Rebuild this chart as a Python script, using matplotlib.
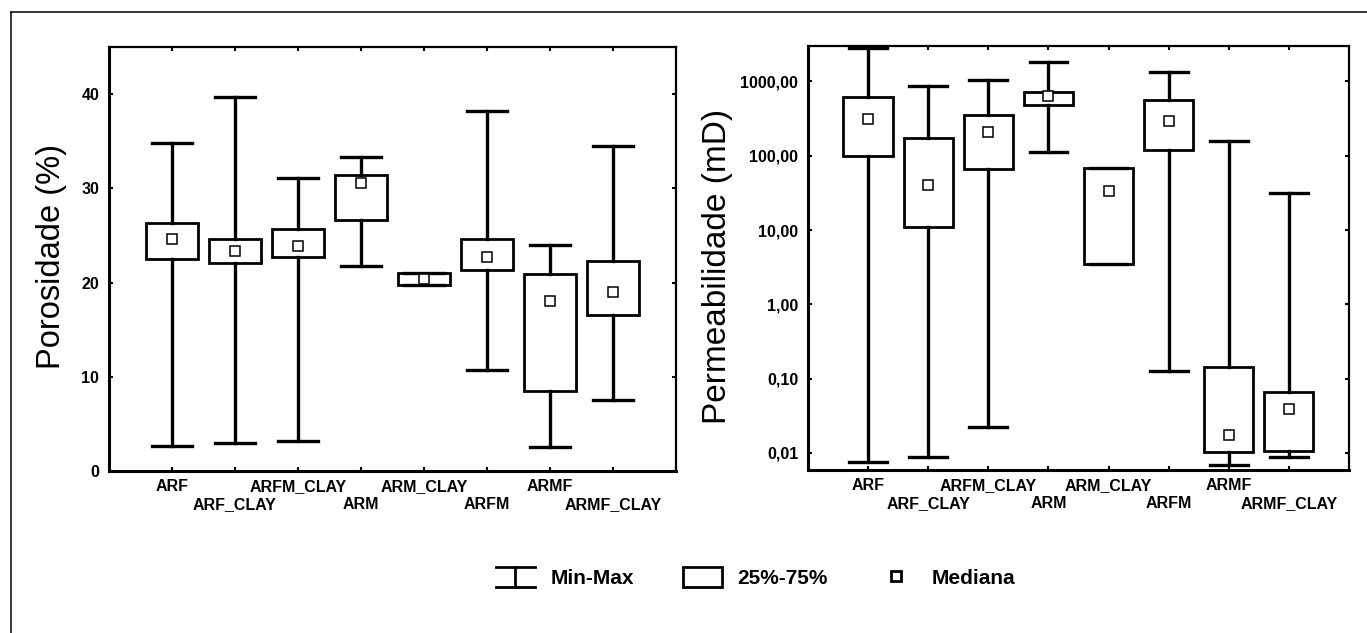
import numpy as np
import matplotlib
matplotlib.use('Agg')
import matplotlib.pyplot as plt
from matplotlib.lines import Line2D
from matplotlib.patches import Rectangle
from matplotlib.legend_handler import HandlerBase
from matplotlib.ticker import FixedLocator, NullLocator
from matplotlib.transforms import ScaledTranslation

categories = ['ARF', 'ARF_CLAY', 'ARFM_CLAY', 'ARM', 'ARM_CLAY', 'ARFM', 'ARMF', 'ARMF_CLAY']

# Porosidade (%)
por_min = [2.7, 3.0, 3.2, 21.8, np.nan, 10.7, 2.5, 7.5]
por_q1 = [22.5, 22.1, 22.7, 26.6, 19.7, 21.3, 8.5, 16.6]
por_med = [24.6, 23.4, 23.9, 30.6, 20.4, 22.7, 18.0, 19.0]
por_q3 = [26.3, 24.6, 25.7, 31.4, 21.0, 24.6, 20.9, 22.3]
por_max = [34.8, 39.7, 31.1, 33.3, np.nan, 38.2, 24.0, 34.5]

# Permeabilidade (mD)
perm_min = [0.0075, 0.0088, 0.0227, 112, np.nan, 0.128, 0.0068, 0.0087]
perm_q1 = [99, 10.9, 66, 476, 3.54, 120, 0.0102, 0.0105]
perm_med = [313, 41, 206, 645, 34, 294, 0.0175, 0.039]
perm_q3 = [617, 175, 351, 711, 68, 566, 0.145, 0.067]
perm_max = [2850, 881, 1038, 1810, np.nan, 1337, 160, 31.8]

por_ticks = [0, 10, 20, 30, 40]
perm_ticks = [0.01, 0.1, 1, 10, 100, 1000]
perm_ticklabels = ['0,01', '0,10', '1,00', '10,00', '100,00', '1000,00']

plt.rcParams['font.family'] = ['Liberation Sans', 'DejaVu Sans']


def make_stats(mn, q1, med, q3, mx):
    stats = []
    for a, b, c, d, e in zip(mn, q1, med, q3, mx):
        stats.append(dict(whislo=b if np.isnan(a) else a, q1=b, med=c, mean=c,
                          q3=d, whishi=d if np.isnan(e) else e, fliers=[]))
    return stats


def draw_panel(ax, stats):
    pos = np.arange(1, len(categories) + 1)
    ax.bxp(stats, positions=pos, widths=0.82, capwidths=0.63,
           patch_artist=True, showmeans=True, showfliers=False,
           boxprops=dict(facecolor='white', edgecolor='black', linewidth=2.0),
           whiskerprops=dict(color='black', linewidth=2.4),
           capprops=dict(color='black', linewidth=2.4),
           medianprops=dict(linewidth=0),
           meanprops=dict(marker='s', markersize=6.5, markerfacecolor='white',
                          markeredgecolor='black', markeredgewidth=1.1))
    ax.set_xlim(0, 9)
    ax.set_xticks(pos)
    ax.set_xticklabels(categories, fontsize=12, fontweight='bold')
    ax.tick_params(axis='both', direction='in', length=3, width=1.5,
                   top=True, right=True, labelsize=11.5, pad=7)
    ax.tick_params(axis='x', pad=6)
    for s in ['left', 'bottom']:
        ax.spines[s].set_linewidth(2.2)
    for s in ['top', 'right']:
        ax.spines[s].set_linewidth(1.6)


def stagger_labels(ax):
    # every second category label sits on a lower row
    shift = ScaledTranslation(0, -18 / 100, fig.dpi_scale_trans)
    for i, lab in enumerate(ax.get_xticklabels()):
        if i % 2 == 1:
            lab.set_transform(lab.get_transform() + shift)


fig = plt.figure(figsize=(13.67, 6.33), dpi=100)
ax1 = fig.add_axes([0.0797, 0.2559, 0.4148, 0.6698])
ax2 = fig.add_axes([0.5911, 0.2575, 0.3957, 0.6698])

draw_panel(ax1, make_stats(por_min, por_q1, por_med, por_q3, por_max))
ax1.set_ylim(0, 45)
ax1.yaxis.set_major_locator(FixedLocator(por_ticks))
ax1.set_yticklabels([str(t) for t in por_ticks], fontsize=11.5, fontweight='bold')
ax1.set_ylabel('Porosidade (%)', fontsize=23.5, va='center')
ax1.yaxis.set_label_coords(-0.1005, 0.505)

draw_panel(ax2, make_stats(perm_min, perm_q1, perm_med, perm_q3, perm_max))
ax2.set_yscale('log')
ax2.set_ylim(0.0059, 3000)
ax2.yaxis.set_major_locator(FixedLocator(perm_ticks))
ax2.yaxis.set_minor_locator(NullLocator())
ax2.set_yticklabels(perm_ticklabels, fontsize=11.5, fontweight='bold')
ax2.set_ylabel('Permeabilidade (mD)', fontsize=24, va='center')
ax2.yaxis.set_label_coords(-0.168, 0.479)

stagger_labels(ax1)
stagger_labels(ax2)


class HandlerMinMax(HandlerBase):
    def create_artists(self, legend, orig_handle, xdescent, ydescent,
                       width, height, fontsize, trans):
        x0, x1 = -xdescent, -xdescent + width
        y0, y1 = -ydescent, -ydescent + height
        xm = (x0 + x1) / 2
        arts = [Line2D([x0, x1], [y1, y1]), Line2D([x0, x1], [y0, y0]),
                Line2D([xm, xm], [y0, y1])]
        for a in arts:
            a.set_color('black')
            a.set_linewidth(2.0)
            a.set_transform(trans)
        return arts


h_minmax = Line2D([], [], color='black')
h_box = Rectangle((0, 0), 1, 1, facecolor='white', edgecolor='black', linewidth=2.0)
h_med = Line2D([], [], marker='s', linestyle='none', markersize=7,
               markerfacecolor='white', markeredgecolor='black', markeredgewidth=2.0)
fig.legend([h_minmax, h_box, h_med], ['Min-Max', '25%-75%', 'Mediana'],
           handler_map={h_minmax: HandlerMinMax()},
           loc='center', bbox_to_anchor=(0.5525, 0.087), ncol=3, frameon=False,
           prop=dict(weight='bold', size=15),
           handlelength=1.9, handleheight=1.1, handletextpad=0.72, columnspacing=2.35)

# page border of the scanned figure
fig.add_artist(Line2D([0.008, 1.0], [0.981, 0.981], color='black', linewidth=1.1))
fig.add_artist(Line2D([0.008, 0.008], [0.0, 0.981], color='black', linewidth=1.1))

fig.savefig('out.png', dpi=100)
